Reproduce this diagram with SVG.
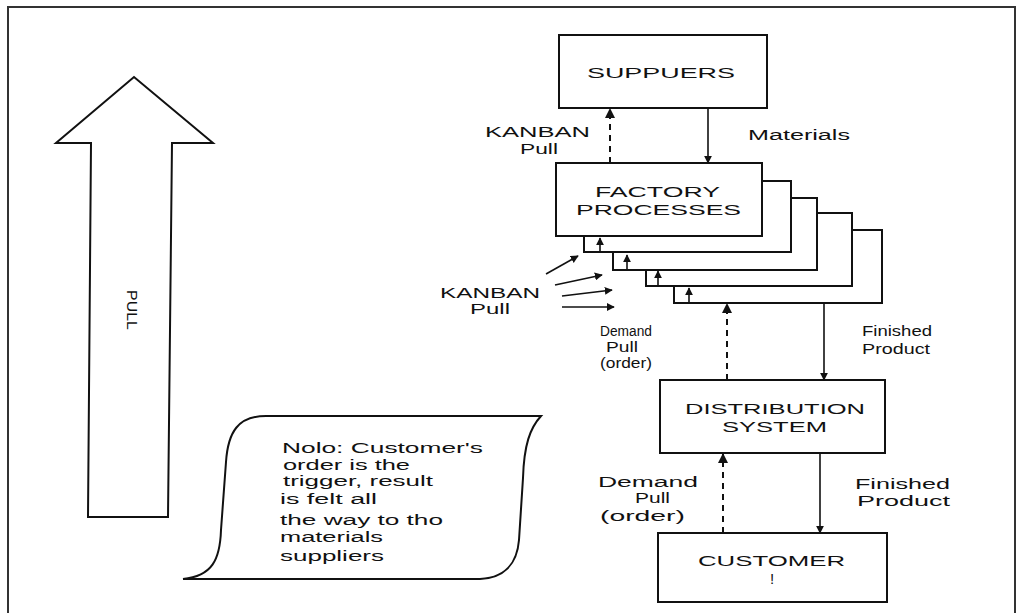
<svg xmlns="http://www.w3.org/2000/svg" width="1017" height="613" viewBox="0 0 1017 613">
<defs>
<style>
.frame{fill:none;stroke:#333;stroke-width:2}
.box{fill:#fff;stroke:#111;stroke-width:2}
.ln{fill:none;stroke:#111;stroke-width:1.6}
.dash{fill:none;stroke:#111;stroke-width:2;stroke-dasharray:6 5}
.t{font-family:"Liberation Sans",Arial,sans-serif;fill:#111;font-size:14px}
.big{font-family:"Liberation Sans",Arial,sans-serif;fill:#111;font-size:15px}
.note{font-family:"Liberation Sans",Arial,sans-serif;fill:#111;font-size:14px}
.mid{text-anchor:middle}
</style>
<marker id="ah" viewBox="0 0 10 10" refX="9" refY="5" markerWidth="5" markerHeight="5" orient="auto">
<path d="M0,0 L10,5 L0,10 z" fill="#111"/>
</marker>
</defs>
<rect width="1017" height="613" fill="#fff"/>
<path class="frame" d="M8,613 V7 H1015 V613"/>

<g id="pull-arrow">
<path d="M88,517 L91,143 L56,143 L134,77 L213,143 L172,143 L168,517 Z" fill="#fff" stroke="#111" stroke-width="2"/>
<text class="t" transform="translate(127,290) rotate(90)" font-size="16" textLength="40" lengthAdjust="spacingAndGlyphs">PULL</text>
</g>

<g id="note">
<path d="M183,579 C212,576 220,560 221,530 L226,462 C228,432 238,416 266,416 L541,416 C530,428 524,445 523,478 L519,540 C517,565 503,578 480,579 Z" fill="#fff" stroke="#111" stroke-width="2"/>
<text class="note" x="282" y="453" textLength="201" lengthAdjust="spacingAndGlyphs">Nolo: Customer's</text>
<text class="note" x="283" y="470" textLength="127" lengthAdjust="spacingAndGlyphs">order is the</text>
<text class="note" x="283" y="486" textLength="150" lengthAdjust="spacingAndGlyphs">trigger, result</text>
<text class="note" x="280" y="504" textLength="97" lengthAdjust="spacingAndGlyphs">is felt all</text>
<text class="note" x="280" y="525" textLength="163" lengthAdjust="spacingAndGlyphs">the way to tho</text>
<text class="note" x="280" y="542" textLength="103" lengthAdjust="spacingAndGlyphs">materials</text>
<text class="note" x="280" y="561" textLength="104" lengthAdjust="spacingAndGlyphs">suppliers</text>
</g>

<g id="suppliers">
<rect class="box" x="559" y="35" width="208" height="73"/>
<text class="big" x="587" y="78" textLength="148" lengthAdjust="spacingAndGlyphs">SUPPUERS</text>
</g>

<g id="factory-stack">
<rect class="box" x="674" y="230" width="208" height="73"/>
<rect class="box" x="646" y="213" width="206" height="73"/>
<rect class="box" x="613" y="198" width="204" height="72"/>
<rect class="box" x="584" y="181" width="207" height="71"/>
</g>
<g id="factory">
<rect class="box" x="556" y="163" width="206" height="73"/>
<text class="t" x="595" y="197" textLength="125" lengthAdjust="spacingAndGlyphs">FACTORY</text>
<text class="t" x="576" y="215" textLength="165" lengthAdjust="spacingAndGlyphs">PROCESSES</text>
</g>

<g id="distribution">
<rect class="box" x="660" y="380" width="225" height="73"/>
<text class="big" x="685" y="414" textLength="180" lengthAdjust="spacingAndGlyphs">DISTRIBUTION</text>
<text class="big" x="722" y="432" textLength="105" lengthAdjust="spacingAndGlyphs">SYSTEM</text>
</g>

<g id="customer">
<rect class="box" x="658" y="533" width="229" height="69"/>
<text class="big" x="698" y="566" textLength="147" lengthAdjust="spacingAndGlyphs">CUSTOMER</text>
<text class="big mid" x="772" y="584">!</text>
</g>

<g id="connectors">
<path class="dash" d="M610,163 V109" marker-end="url(#ah)"/>
<path class="ln" d="M708,108 V163" marker-end="url(#ah)"/>
<path class="dash" d="M727,380 V304" marker-end="url(#ah)"/>
<path class="ln" d="M824,303 V380" marker-end="url(#ah)"/>
<path class="dash" d="M723,533 V454" marker-end="url(#ah)"/>
<path class="ln" d="M820,453 V533" marker-end="url(#ah)"/>
<path class="ln" d="M546,274 L578,256" marker-end="url(#ah)"/>
<path class="ln" d="M555,285 L602,275" marker-end="url(#ah)"/>
<path class="ln" d="M562,296 L612,290" marker-end="url(#ah)"/>
<path class="ln" d="M562,307 L614,307" marker-end="url(#ah)"/>
<path class="ln" d="M600,251 V238" marker-end="url(#ah)"/>
<path class="ln" d="M627,269 V255" marker-end="url(#ah)"/>
<path class="ln" d="M658,285 V271" marker-end="url(#ah)"/>
<path class="ln" d="M689,302 V288" marker-end="url(#ah)"/>
</g>

<g id="labels">
<text class="t" x="485" y="137" textLength="105" lengthAdjust="spacingAndGlyphs">KANBAN</text>
<text class="t" x="520" y="154" textLength="38" lengthAdjust="spacingAndGlyphs">Pull</text>
<text class="t" x="748" y="140" textLength="102" lengthAdjust="spacingAndGlyphs">Materials</text>
<text class="t" x="440" y="298" textLength="100" lengthAdjust="spacingAndGlyphs">KANBAN</text>
<text class="t" x="470" y="314" textLength="40" lengthAdjust="spacingAndGlyphs">Pull</text>
<text class="t" x="600" y="336" textLength="52" lengthAdjust="spacingAndGlyphs">Demand</text>
<text class="t" x="606" y="352" textLength="32" lengthAdjust="spacingAndGlyphs">Pull</text>
<text class="t" x="600" y="368" textLength="52" lengthAdjust="spacingAndGlyphs">(order)</text>
<text class="t" x="862" y="336" textLength="70" lengthAdjust="spacingAndGlyphs">Finished</text>
<text class="t" x="862" y="354" textLength="68" lengthAdjust="spacingAndGlyphs">Product</text>
<text class="t" x="598" y="487" textLength="100" lengthAdjust="spacingAndGlyphs">Demand</text>
<text class="t" x="635" y="503" textLength="35" lengthAdjust="spacingAndGlyphs">Pull</text>
<text class="t" x="600" y="521" textLength="85" lengthAdjust="spacingAndGlyphs">(order)</text>
<text class="t" x="855" y="489" textLength="95" lengthAdjust="spacingAndGlyphs">Finished</text>
<text class="t" x="857" y="506" textLength="93" lengthAdjust="spacingAndGlyphs">Product</text>
</g>
</svg>
